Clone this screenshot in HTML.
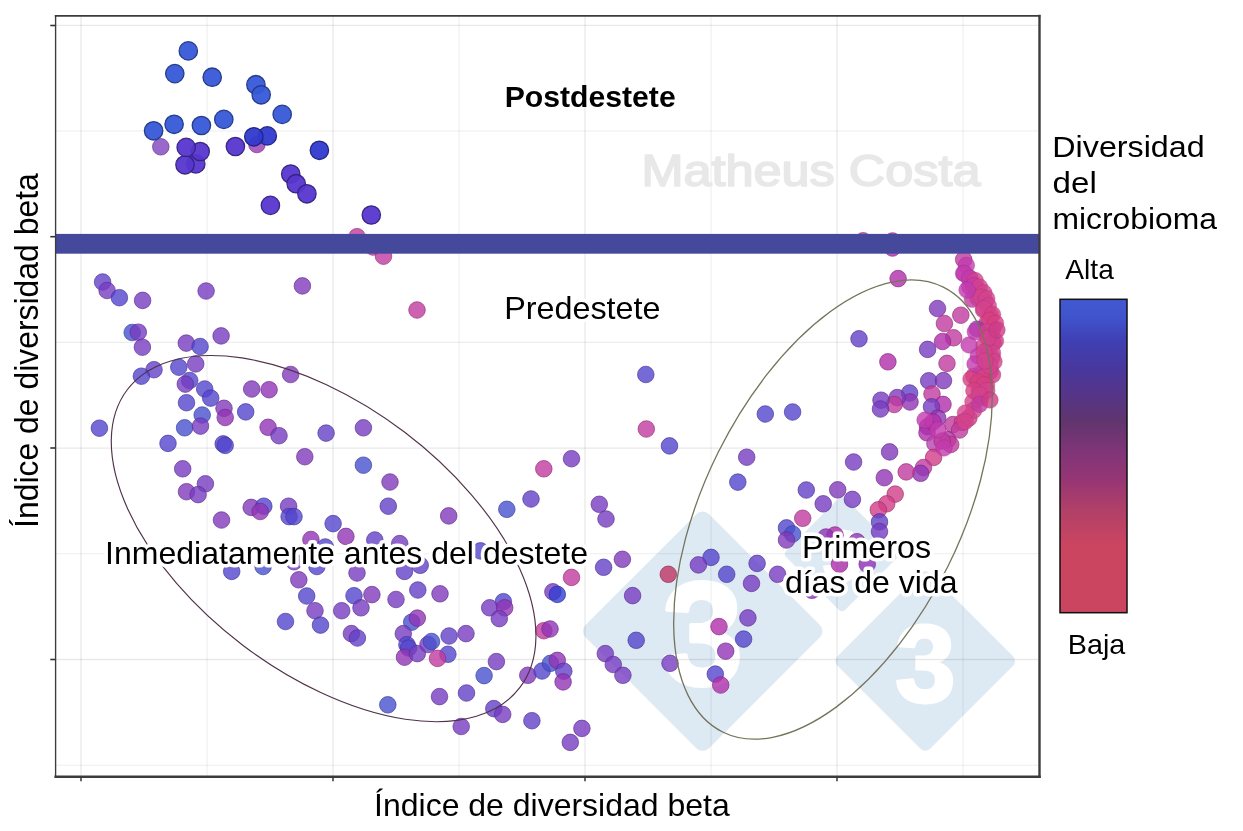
<!DOCTYPE html>
<html lang="es"><head><meta charset="utf-8"><title>Diversidad del microbioma</title>
<style>html,body{margin:0;padding:0;background:#fff}svg{display:block}text{font-family:"Liberation Sans",Arial,sans-serif}</style>
</head><body>
<svg width="1243" height="831" viewBox="0 0 1243 831">
<defs>
<linearGradient id="lg" x1="0" y1="0" x2="0" y2="1">
<stop offset="0" stop-color="#4159d2"/><stop offset="0.06" stop-color="#4053cc"/><stop offset="0.13" stop-color="#3f40b4"/><stop offset="0.22" stop-color="#48389e"/><stop offset="0.30" stop-color="#55358a"/><stop offset="0.39" stop-color="#60356e"/><stop offset="0.48" stop-color="#7e3578"/><stop offset="0.57" stop-color="#953575"/><stop offset="0.67" stop-color="#b04068"/><stop offset="0.79" stop-color="#cc4560"/><stop offset="1" stop-color="#cb4560"/>
</linearGradient>
<clipPath id="pc"><rect x="55.6" y="15.8" width="984" height="760.4"/></clipPath>
</defs>
<rect width="1243" height="831" fill="#fff"/>
<g><g><rect x="800.3" y="512.3" width="83.4" height="83.4" rx="4.3" fill="#dde9f3" transform="rotate(45 842 554)"/><text x="842" y="580" font-size="70" font-weight="bold" fill="#fff" stroke="#fff" stroke-width="1.9" stroke-linejoin="round" text-anchor="middle">3</text></g><g><rect x="615.5" y="544.0" width="174.4" height="174.4" rx="9" fill="#dde9f3" transform="rotate(45 702.7 631.2)"/><text x="702.7" y="684" font-size="146" font-weight="bold" fill="#fff" stroke="#fff" stroke-width="3.9" stroke-linejoin="round" text-anchor="middle">3</text></g><g><rect x="859.9" y="595.6" width="130.8" height="130.8" rx="6.7" fill="#dde9f3" transform="rotate(45 925.3 661)"/><text x="925.3" y="702" font-size="109" font-weight="bold" fill="#fff" stroke="#fff" stroke-width="2.9" stroke-linejoin="round" text-anchor="middle">3</text></g></g>
<g><line x1="81" y1="16" x2="81" y2="776" stroke="#000" stroke-opacity="0.085" stroke-width="1.3"/><line x1="207" y1="16" x2="207" y2="776" stroke="#000" stroke-opacity="0.07" stroke-width="1.1"/><line x1="333" y1="16" x2="333" y2="776" stroke="#000" stroke-opacity="0.085" stroke-width="1.3"/><line x1="459" y1="16" x2="459" y2="776" stroke="#000" stroke-opacity="0.07" stroke-width="1.1"/><line x1="585" y1="16" x2="585" y2="776" stroke="#000" stroke-opacity="0.085" stroke-width="1.3"/><line x1="711" y1="16" x2="711" y2="776" stroke="#000" stroke-opacity="0.07" stroke-width="1.1"/><line x1="837" y1="16" x2="837" y2="776" stroke="#000" stroke-opacity="0.085" stroke-width="1.3"/><line x1="963" y1="16" x2="963" y2="776" stroke="#000" stroke-opacity="0.07" stroke-width="1.1"/><line x1="56" y1="25.3" x2="1040" y2="25.3" stroke="#000" stroke-opacity="0.085" stroke-width="1.3"/><line x1="56" y1="131" x2="1040" y2="131" stroke="#000" stroke-opacity="0.07" stroke-width="1.1"/><line x1="56" y1="236.7" x2="1040" y2="236.7" stroke="#000" stroke-opacity="0.085" stroke-width="1.3"/><line x1="56" y1="342.4" x2="1040" y2="342.4" stroke="#000" stroke-opacity="0.07" stroke-width="1.1"/><line x1="56" y1="448.1" x2="1040" y2="448.1" stroke="#000" stroke-opacity="0.085" stroke-width="1.3"/><line x1="56" y1="553.8" x2="1040" y2="553.8" stroke="#000" stroke-opacity="0.07" stroke-width="1.1"/><line x1="56" y1="659.5" x2="1040" y2="659.5" stroke="#000" stroke-opacity="0.085" stroke-width="1.3"/><line x1="56" y1="765.2" x2="1040" y2="765.2" stroke="#000" stroke-opacity="0.07" stroke-width="1.1"/></g>
<text x="641.5" y="185.7" font-size="43.5" fill="#e8e8e8" stroke="#e8e8e8" stroke-width="1.7" stroke-linejoin="round" textLength="339" lengthAdjust="spacingAndGlyphs">Matheus Costa</text>
<g clip-path="url(#pc)"><circle cx="256.9" cy="144.5" r="8.3" fill="rgb(151, 56, 179)" fill-opacity="0.8" stroke="rgb(113, 42, 134)" stroke-opacity="0.65" stroke-width="1"/><circle cx="160.8" cy="146.8" r="8.3" fill="rgb(129, 66, 189)" fill-opacity="0.8" stroke="rgb(96, 49, 141)" stroke-opacity="0.65" stroke-width="1"/><circle cx="357" cy="236.7" r="8.3" fill="rgb(194, 59, 159)" fill-opacity="0.8" stroke="rgb(145, 44, 119)" stroke-opacity="0.65" stroke-width="1"/><circle cx="373" cy="247" r="8.3" fill="rgb(194, 59, 159)" fill-opacity="0.8" stroke="rgb(145, 44, 119)" stroke-opacity="0.65" stroke-width="1"/><circle cx="383.5" cy="256.2" r="8.3" fill="rgb(194, 59, 159)" fill-opacity="0.8" stroke="rgb(145, 44, 119)" stroke-opacity="0.65" stroke-width="1"/><circle cx="863.1" cy="240.8" r="8.3" fill="rgb(194, 59, 159)" fill-opacity="0.8" stroke="rgb(145, 44, 119)" stroke-opacity="0.65" stroke-width="1"/><circle cx="892.5" cy="241" r="8.3" fill="rgb(176, 46, 171)" fill-opacity="0.8" stroke="rgb(132, 34, 128)" stroke-opacity="0.65" stroke-width="1"/><circle cx="892.5" cy="248" r="8.3" fill="rgb(176, 46, 171)" fill-opacity="0.8" stroke="rgb(132, 34, 128)" stroke-opacity="0.65" stroke-width="1"/><circle cx="963.7" cy="259.6" r="8.3" fill="rgb(194, 59, 159)" fill-opacity="0.8" stroke="rgb(145, 44, 119)" stroke-opacity="0.65" stroke-width="1"/><circle cx="417" cy="310" r="8.3" fill="rgb(194, 59, 159)" fill-opacity="0.8" stroke="rgb(145, 44, 119)" stroke-opacity="0.65" stroke-width="1"/><circle cx="102.6" cy="282" r="8.3" fill="rgb(99, 64, 199)" fill-opacity="0.8" stroke="rgb(74, 48, 149)" stroke-opacity="0.65" stroke-width="1"/><circle cx="107.1" cy="290.5" r="8.3" fill="rgb(119, 60, 192)" fill-opacity="0.8" stroke="rgb(89, 45, 144)" stroke-opacity="0.65" stroke-width="1"/><circle cx="119.4" cy="297.7" r="8.3" fill="rgb(84, 69, 204)" fill-opacity="0.8" stroke="rgb(63, 51, 153)" stroke-opacity="0.65" stroke-width="1"/><circle cx="142.6" cy="300.4" r="8.3" fill="rgb(119, 60, 192)" fill-opacity="0.8" stroke="rgb(89, 45, 144)" stroke-opacity="0.65" stroke-width="1"/><circle cx="206.1" cy="291" r="8.3" fill="rgb(119, 60, 192)" fill-opacity="0.8" stroke="rgb(89, 45, 144)" stroke-opacity="0.65" stroke-width="1"/><circle cx="302.4" cy="285.9" r="8.3" fill="rgb(129, 58, 186)" fill-opacity="0.8" stroke="rgb(96, 43, 139)" stroke-opacity="0.65" stroke-width="1"/><circle cx="132.2" cy="332.5" r="8.3" fill="rgb(71, 81, 205)" fill-opacity="0.8" stroke="rgb(53, 60, 153)" stroke-opacity="0.65" stroke-width="1"/><circle cx="138.3" cy="332.2" r="8.3" fill="rgb(119, 60, 192)" fill-opacity="0.8" stroke="rgb(89, 45, 144)" stroke-opacity="0.65" stroke-width="1"/><circle cx="142.4" cy="347.2" r="8.3" fill="rgb(119, 60, 192)" fill-opacity="0.8" stroke="rgb(89, 45, 144)" stroke-opacity="0.65" stroke-width="1"/><circle cx="221.1" cy="335.9" r="8.3" fill="rgb(119, 60, 192)" fill-opacity="0.8" stroke="rgb(89, 45, 144)" stroke-opacity="0.65" stroke-width="1"/><circle cx="186.3" cy="343.1" r="8.3" fill="rgb(119, 60, 192)" fill-opacity="0.8" stroke="rgb(89, 45, 144)" stroke-opacity="0.65" stroke-width="1"/><circle cx="200.1" cy="346.5" r="8.3" fill="rgb(84, 69, 204)" fill-opacity="0.8" stroke="rgb(63, 51, 153)" stroke-opacity="0.65" stroke-width="1"/><circle cx="195.7" cy="363.9" r="8.3" fill="rgb(119, 60, 192)" fill-opacity="0.8" stroke="rgb(89, 45, 144)" stroke-opacity="0.65" stroke-width="1"/><circle cx="178.8" cy="367.2" r="8.3" fill="rgb(84, 69, 204)" fill-opacity="0.8" stroke="rgb(63, 51, 153)" stroke-opacity="0.65" stroke-width="1"/><circle cx="154" cy="369.7" r="8.3" fill="rgb(99, 64, 199)" fill-opacity="0.8" stroke="rgb(74, 48, 149)" stroke-opacity="0.65" stroke-width="1"/><circle cx="141.4" cy="376.2" r="8.3" fill="rgb(84, 69, 204)" fill-opacity="0.8" stroke="rgb(63, 51, 153)" stroke-opacity="0.65" stroke-width="1"/><circle cx="290.6" cy="374.5" r="8.3" fill="rgb(129, 58, 186)" fill-opacity="0.8" stroke="rgb(96, 43, 139)" stroke-opacity="0.65" stroke-width="1"/><circle cx="189.7" cy="380.5" r="8.3" fill="rgb(84, 69, 204)" fill-opacity="0.8" stroke="rgb(63, 51, 153)" stroke-opacity="0.65" stroke-width="1"/><circle cx="185.3" cy="384.1" r="8.3" fill="rgb(119, 60, 192)" fill-opacity="0.8" stroke="rgb(89, 45, 144)" stroke-opacity="0.65" stroke-width="1"/><circle cx="204.7" cy="389" r="8.3" fill="rgb(84, 69, 204)" fill-opacity="0.8" stroke="rgb(63, 51, 153)" stroke-opacity="0.65" stroke-width="1"/><circle cx="210.7" cy="398.1" r="8.3" fill="rgb(84, 69, 204)" fill-opacity="0.8" stroke="rgb(63, 51, 153)" stroke-opacity="0.65" stroke-width="1"/><circle cx="251.7" cy="389" r="8.3" fill="rgb(129, 58, 186)" fill-opacity="0.8" stroke="rgb(96, 43, 139)" stroke-opacity="0.65" stroke-width="1"/><circle cx="269.1" cy="389.7" r="8.3" fill="rgb(145, 53, 181)" fill-opacity="0.8" stroke="rgb(108, 39, 135)" stroke-opacity="0.65" stroke-width="1"/><circle cx="186.5" cy="402.7" r="8.3" fill="rgb(84, 69, 204)" fill-opacity="0.8" stroke="rgb(63, 51, 153)" stroke-opacity="0.65" stroke-width="1"/><circle cx="224" cy="408.3" r="8.3" fill="rgb(129, 58, 186)" fill-opacity="0.8" stroke="rgb(96, 43, 139)" stroke-opacity="0.65" stroke-width="1"/><circle cx="245.7" cy="411.9" r="8.3" fill="rgb(84, 69, 204)" fill-opacity="0.8" stroke="rgb(63, 51, 153)" stroke-opacity="0.65" stroke-width="1"/><circle cx="202.2" cy="415" r="8.3" fill="rgb(71, 81, 205)" fill-opacity="0.8" stroke="rgb(53, 60, 153)" stroke-opacity="0.65" stroke-width="1"/><circle cx="225.2" cy="417.5" r="8.3" fill="rgb(145, 53, 181)" fill-opacity="0.8" stroke="rgb(108, 39, 135)" stroke-opacity="0.65" stroke-width="1"/><circle cx="99.4" cy="428.2" r="8.3" fill="rgb(84, 69, 204)" fill-opacity="0.8" stroke="rgb(63, 51, 153)" stroke-opacity="0.65" stroke-width="1"/><circle cx="184.6" cy="427.8" r="8.3" fill="rgb(71, 81, 205)" fill-opacity="0.8" stroke="rgb(53, 60, 153)" stroke-opacity="0.65" stroke-width="1"/><circle cx="200.5" cy="426.1" r="8.3" fill="rgb(119, 60, 192)" fill-opacity="0.8" stroke="rgb(89, 45, 144)" stroke-opacity="0.65" stroke-width="1"/><circle cx="268.1" cy="427.3" r="8.3" fill="rgb(145, 53, 181)" fill-opacity="0.8" stroke="rgb(108, 39, 135)" stroke-opacity="0.65" stroke-width="1"/><circle cx="279" cy="435.7" r="8.3" fill="rgb(119, 60, 192)" fill-opacity="0.8" stroke="rgb(89, 45, 144)" stroke-opacity="0.65" stroke-width="1"/><circle cx="326.1" cy="433.1" r="8.3" fill="rgb(99, 64, 199)" fill-opacity="0.8" stroke="rgb(74, 48, 149)" stroke-opacity="0.65" stroke-width="1"/><circle cx="168" cy="443.4" r="8.3" fill="rgb(84, 69, 204)" fill-opacity="0.8" stroke="rgb(63, 51, 153)" stroke-opacity="0.65" stroke-width="1"/><circle cx="223.2" cy="443.9" r="8.3" fill="rgb(84, 69, 204)" fill-opacity="0.8" stroke="rgb(63, 51, 153)" stroke-opacity="0.65" stroke-width="1"/><circle cx="225.2" cy="445.4" r="8.3" fill="rgb(84, 69, 204)" fill-opacity="0.8" stroke="rgb(63, 51, 153)" stroke-opacity="0.65" stroke-width="1"/><circle cx="304.8" cy="456.7" r="8.3" fill="rgb(129, 58, 186)" fill-opacity="0.8" stroke="rgb(96, 43, 139)" stroke-opacity="0.65" stroke-width="1"/><circle cx="182.7" cy="468.8" r="8.3" fill="rgb(119, 60, 192)" fill-opacity="0.8" stroke="rgb(89, 45, 144)" stroke-opacity="0.65" stroke-width="1"/><circle cx="205.4" cy="483.8" r="8.3" fill="rgb(119, 60, 192)" fill-opacity="0.8" stroke="rgb(89, 45, 144)" stroke-opacity="0.65" stroke-width="1"/><circle cx="186.5" cy="491.7" r="8.3" fill="rgb(129, 58, 186)" fill-opacity="0.8" stroke="rgb(96, 43, 139)" stroke-opacity="0.65" stroke-width="1"/><circle cx="198.1" cy="494.6" r="8.3" fill="rgb(119, 60, 192)" fill-opacity="0.8" stroke="rgb(89, 45, 144)" stroke-opacity="0.65" stroke-width="1"/><circle cx="221.5" cy="520" r="8.3" fill="rgb(129, 58, 186)" fill-opacity="0.8" stroke="rgb(96, 43, 139)" stroke-opacity="0.65" stroke-width="1"/><circle cx="251.2" cy="507.4" r="8.3" fill="rgb(129, 58, 186)" fill-opacity="0.8" stroke="rgb(96, 43, 139)" stroke-opacity="0.65" stroke-width="1"/><circle cx="263.8" cy="506.2" r="8.3" fill="rgb(84, 69, 204)" fill-opacity="0.8" stroke="rgb(63, 51, 153)" stroke-opacity="0.65" stroke-width="1"/><circle cx="260.2" cy="511.5" r="8.3" fill="rgb(145, 53, 181)" fill-opacity="0.8" stroke="rgb(108, 39, 135)" stroke-opacity="0.65" stroke-width="1"/><circle cx="288.6" cy="506.2" r="8.3" fill="rgb(119, 60, 192)" fill-opacity="0.8" stroke="rgb(89, 45, 144)" stroke-opacity="0.65" stroke-width="1"/><circle cx="289.1" cy="516.6" r="8.3" fill="rgb(84, 69, 204)" fill-opacity="0.8" stroke="rgb(63, 51, 153)" stroke-opacity="0.65" stroke-width="1"/><circle cx="294" cy="516.6" r="8.3" fill="rgb(84, 69, 204)" fill-opacity="0.8" stroke="rgb(63, 51, 153)" stroke-opacity="0.65" stroke-width="1"/><circle cx="333.1" cy="523.6" r="8.3" fill="rgb(84, 69, 204)" fill-opacity="0.8" stroke="rgb(63, 51, 153)" stroke-opacity="0.65" stroke-width="1"/><circle cx="345.9" cy="536.4" r="8.3" fill="rgb(145, 53, 181)" fill-opacity="0.8" stroke="rgb(108, 39, 135)" stroke-opacity="0.65" stroke-width="1"/><circle cx="310.9" cy="539.5" r="8.3" fill="rgb(145, 53, 181)" fill-opacity="0.8" stroke="rgb(108, 39, 135)" stroke-opacity="0.65" stroke-width="1"/><circle cx="325.3" cy="547" r="8.3" fill="rgb(84, 69, 204)" fill-opacity="0.8" stroke="rgb(63, 51, 153)" stroke-opacity="0.65" stroke-width="1"/><circle cx="231.7" cy="571.4" r="8.3" fill="rgb(84, 69, 204)" fill-opacity="0.8" stroke="rgb(63, 51, 153)" stroke-opacity="0.65" stroke-width="1"/><circle cx="263.1" cy="566.5" r="8.3" fill="rgb(71, 81, 205)" fill-opacity="0.8" stroke="rgb(53, 60, 153)" stroke-opacity="0.65" stroke-width="1"/><circle cx="316.9" cy="566.5" r="8.3" fill="rgb(84, 69, 204)" fill-opacity="0.8" stroke="rgb(63, 51, 153)" stroke-opacity="0.65" stroke-width="1"/><circle cx="294" cy="561.7" r="8.3" fill="rgb(119, 60, 192)" fill-opacity="0.8" stroke="rgb(89, 45, 144)" stroke-opacity="0.65" stroke-width="1"/><circle cx="298.8" cy="579.8" r="8.3" fill="rgb(129, 58, 186)" fill-opacity="0.8" stroke="rgb(96, 43, 139)" stroke-opacity="0.65" stroke-width="1"/><circle cx="306.7" cy="596" r="8.3" fill="rgb(84, 69, 204)" fill-opacity="0.8" stroke="rgb(63, 51, 153)" stroke-opacity="0.65" stroke-width="1"/><circle cx="315" cy="610.7" r="8.3" fill="rgb(119, 60, 192)" fill-opacity="0.8" stroke="rgb(89, 45, 144)" stroke-opacity="0.65" stroke-width="1"/><circle cx="285.5" cy="621.5" r="8.3" fill="rgb(84, 69, 204)" fill-opacity="0.8" stroke="rgb(63, 51, 153)" stroke-opacity="0.65" stroke-width="1"/><circle cx="320.5" cy="625.1" r="8.3" fill="rgb(84, 69, 204)" fill-opacity="0.8" stroke="rgb(63, 51, 153)" stroke-opacity="0.65" stroke-width="1"/><circle cx="341.7" cy="610.7" r="8.3" fill="rgb(119, 60, 192)" fill-opacity="0.8" stroke="rgb(89, 45, 144)" stroke-opacity="0.65" stroke-width="1"/><circle cx="351.4" cy="633.6" r="8.3" fill="rgb(119, 60, 192)" fill-opacity="0.8" stroke="rgb(89, 45, 144)" stroke-opacity="0.65" stroke-width="1"/><circle cx="357.4" cy="638" r="8.3" fill="rgb(99, 64, 199)" fill-opacity="0.8" stroke="rgb(74, 48, 149)" stroke-opacity="0.65" stroke-width="1"/><circle cx="363.4" cy="427.8" r="8.3" fill="rgb(119, 60, 192)" fill-opacity="0.8" stroke="rgb(89, 45, 144)" stroke-opacity="0.65" stroke-width="1"/><circle cx="363.4" cy="465.2" r="8.3" fill="rgb(71, 81, 205)" fill-opacity="0.8" stroke="rgb(53, 60, 153)" stroke-opacity="0.65" stroke-width="1"/><circle cx="390" cy="482" r="8.3" fill="rgb(129, 58, 186)" fill-opacity="0.8" stroke="rgb(96, 43, 139)" stroke-opacity="0.65" stroke-width="1"/><circle cx="388.3" cy="506.2" r="8.3" fill="rgb(99, 64, 199)" fill-opacity="0.8" stroke="rgb(74, 48, 149)" stroke-opacity="0.65" stroke-width="1"/><circle cx="448.7" cy="515.9" r="8.3" fill="rgb(129, 58, 186)" fill-opacity="0.8" stroke="rgb(96, 43, 139)" stroke-opacity="0.65" stroke-width="1"/><circle cx="646.3" cy="429" r="8.3" fill="rgb(194, 59, 159)" fill-opacity="0.8" stroke="rgb(145, 44, 119)" stroke-opacity="0.65" stroke-width="1"/><circle cx="571.5" cy="458.7" r="8.3" fill="rgb(119, 60, 192)" fill-opacity="0.8" stroke="rgb(89, 45, 144)" stroke-opacity="0.65" stroke-width="1"/><circle cx="543.8" cy="468.8" r="8.3" fill="rgb(194, 59, 159)" fill-opacity="0.8" stroke="rgb(145, 44, 119)" stroke-opacity="0.65" stroke-width="1"/><circle cx="531" cy="499" r="8.3" fill="rgb(99, 64, 199)" fill-opacity="0.8" stroke="rgb(74, 48, 149)" stroke-opacity="0.65" stroke-width="1"/><circle cx="506.8" cy="509.3" r="8.3" fill="rgb(71, 81, 205)" fill-opacity="0.8" stroke="rgb(53, 60, 153)" stroke-opacity="0.65" stroke-width="1"/><circle cx="599.3" cy="504.3" r="8.3" fill="rgb(119, 60, 192)" fill-opacity="0.8" stroke="rgb(89, 45, 144)" stroke-opacity="0.65" stroke-width="1"/><circle cx="606" cy="519" r="8.3" fill="rgb(119, 60, 192)" fill-opacity="0.8" stroke="rgb(89, 45, 144)" stroke-opacity="0.65" stroke-width="1"/><circle cx="374.8" cy="540" r="8.3" fill="rgb(99, 64, 199)" fill-opacity="0.8" stroke="rgb(74, 48, 149)" stroke-opacity="0.65" stroke-width="1"/><circle cx="399.7" cy="543.6" r="8.3" fill="rgb(119, 60, 192)" fill-opacity="0.8" stroke="rgb(89, 45, 144)" stroke-opacity="0.65" stroke-width="1"/><circle cx="480.5" cy="550.9" r="8.3" fill="rgb(84, 69, 204)" fill-opacity="0.8" stroke="rgb(63, 51, 153)" stroke-opacity="0.65" stroke-width="1"/><circle cx="357" cy="573" r="8.3" fill="rgb(119, 60, 192)" fill-opacity="0.8" stroke="rgb(89, 45, 144)" stroke-opacity="0.65" stroke-width="1"/><circle cx="404.5" cy="571.4" r="8.3" fill="rgb(99, 64, 199)" fill-opacity="0.8" stroke="rgb(74, 48, 149)" stroke-opacity="0.65" stroke-width="1"/><circle cx="420.2" cy="565.3" r="8.3" fill="rgb(99, 64, 199)" fill-opacity="0.8" stroke="rgb(74, 48, 149)" stroke-opacity="0.65" stroke-width="1"/><circle cx="417.8" cy="590" r="8.3" fill="rgb(99, 64, 199)" fill-opacity="0.8" stroke="rgb(74, 48, 149)" stroke-opacity="0.65" stroke-width="1"/><circle cx="371.9" cy="594.6" r="8.3" fill="rgb(129, 58, 186)" fill-opacity="0.8" stroke="rgb(96, 43, 139)" stroke-opacity="0.65" stroke-width="1"/><circle cx="396" cy="599.5" r="8.3" fill="rgb(119, 60, 192)" fill-opacity="0.8" stroke="rgb(89, 45, 144)" stroke-opacity="0.65" stroke-width="1"/><circle cx="440" cy="593.8" r="8.3" fill="rgb(129, 58, 186)" fill-opacity="0.8" stroke="rgb(96, 43, 139)" stroke-opacity="0.65" stroke-width="1"/><circle cx="354" cy="595.7" r="8.3" fill="rgb(84, 69, 204)" fill-opacity="0.8" stroke="rgb(63, 51, 153)" stroke-opacity="0.65" stroke-width="1"/><circle cx="571.5" cy="577.4" r="8.3" fill="rgb(194, 59, 159)" fill-opacity="0.8" stroke="rgb(145, 44, 119)" stroke-opacity="0.65" stroke-width="1"/><circle cx="603.6" cy="567.3" r="8.3" fill="rgb(99, 64, 199)" fill-opacity="0.8" stroke="rgb(74, 48, 149)" stroke-opacity="0.65" stroke-width="1"/><circle cx="622.4" cy="559.3" r="8.3" fill="rgb(129, 58, 186)" fill-opacity="0.8" stroke="rgb(96, 43, 139)" stroke-opacity="0.65" stroke-width="1"/><circle cx="552.9" cy="591.8" r="8.3" fill="rgb(119, 60, 192)" fill-opacity="0.8" stroke="rgb(89, 45, 144)" stroke-opacity="0.65" stroke-width="1"/><circle cx="557.3" cy="594.4" r="8.3" fill="rgb(51, 61, 209)" fill-opacity="0.8" stroke="rgb(38, 45, 156)" stroke-opacity="0.65" stroke-width="1"/><circle cx="503.4" cy="601.7" r="8.3" fill="rgb(84, 69, 204)" fill-opacity="0.8" stroke="rgb(63, 51, 153)" stroke-opacity="0.65" stroke-width="1"/><circle cx="632.6" cy="595.6" r="8.3" fill="rgb(119, 60, 192)" fill-opacity="0.8" stroke="rgb(89, 45, 144)" stroke-opacity="0.65" stroke-width="1"/><circle cx="361" cy="607.8" r="8.3" fill="rgb(119, 60, 192)" fill-opacity="0.8" stroke="rgb(89, 45, 144)" stroke-opacity="0.65" stroke-width="1"/><circle cx="411.7" cy="622.2" r="8.3" fill="rgb(71, 81, 205)" fill-opacity="0.8" stroke="rgb(53, 60, 153)" stroke-opacity="0.65" stroke-width="1"/><circle cx="417.3" cy="618.1" r="8.3" fill="rgb(145, 53, 181)" fill-opacity="0.8" stroke="rgb(108, 39, 135)" stroke-opacity="0.65" stroke-width="1"/><circle cx="403.3" cy="633.6" r="8.3" fill="rgb(119, 60, 192)" fill-opacity="0.8" stroke="rgb(89, 45, 144)" stroke-opacity="0.65" stroke-width="1"/><circle cx="406.9" cy="644.7" r="8.3" fill="rgb(84, 69, 204)" fill-opacity="0.8" stroke="rgb(63, 51, 153)" stroke-opacity="0.65" stroke-width="1"/><circle cx="408.6" cy="648" r="8.3" fill="rgb(84, 69, 204)" fill-opacity="0.8" stroke="rgb(63, 51, 153)" stroke-opacity="0.65" stroke-width="1"/><circle cx="404.5" cy="657.2" r="8.3" fill="rgb(145, 53, 181)" fill-opacity="0.8" stroke="rgb(108, 39, 135)" stroke-opacity="0.65" stroke-width="1"/><circle cx="417.3" cy="653.6" r="8.3" fill="rgb(119, 60, 192)" fill-opacity="0.8" stroke="rgb(89, 45, 144)" stroke-opacity="0.65" stroke-width="1"/><circle cx="428" cy="644.5" r="8.3" fill="rgb(119, 60, 192)" fill-opacity="0.8" stroke="rgb(89, 45, 144)" stroke-opacity="0.65" stroke-width="1"/><circle cx="431.5" cy="641.5" r="8.3" fill="rgb(71, 81, 205)" fill-opacity="0.8" stroke="rgb(53, 60, 153)" stroke-opacity="0.65" stroke-width="1"/><circle cx="449.1" cy="636" r="8.3" fill="rgb(99, 64, 199)" fill-opacity="0.8" stroke="rgb(74, 48, 149)" stroke-opacity="0.65" stroke-width="1"/><circle cx="466" cy="633.6" r="8.3" fill="rgb(119, 60, 192)" fill-opacity="0.8" stroke="rgb(89, 45, 144)" stroke-opacity="0.65" stroke-width="1"/><circle cx="447.9" cy="654.3" r="8.3" fill="rgb(84, 69, 204)" fill-opacity="0.8" stroke="rgb(63, 51, 153)" stroke-opacity="0.65" stroke-width="1"/><circle cx="437.5" cy="658.4" r="8.3" fill="rgb(194, 59, 159)" fill-opacity="0.8" stroke="rgb(145, 44, 119)" stroke-opacity="0.65" stroke-width="1"/><circle cx="489.7" cy="607.8" r="8.3" fill="rgb(119, 60, 192)" fill-opacity="0.8" stroke="rgb(89, 45, 144)" stroke-opacity="0.65" stroke-width="1"/><circle cx="504.7" cy="607.8" r="8.3" fill="rgb(145, 53, 181)" fill-opacity="0.8" stroke="rgb(108, 39, 135)" stroke-opacity="0.65" stroke-width="1"/><circle cx="499.3" cy="618.6" r="8.3" fill="rgb(119, 60, 192)" fill-opacity="0.8" stroke="rgb(89, 45, 144)" stroke-opacity="0.65" stroke-width="1"/><circle cx="496.4" cy="661.6" r="8.3" fill="rgb(119, 60, 192)" fill-opacity="0.8" stroke="rgb(89, 45, 144)" stroke-opacity="0.65" stroke-width="1"/><circle cx="484.1" cy="675.6" r="8.3" fill="rgb(71, 81, 205)" fill-opacity="0.8" stroke="rgb(53, 60, 153)" stroke-opacity="0.65" stroke-width="1"/><circle cx="439.5" cy="696.6" r="8.3" fill="rgb(119, 60, 192)" fill-opacity="0.8" stroke="rgb(89, 45, 144)" stroke-opacity="0.65" stroke-width="1"/><circle cx="466.5" cy="693" r="8.3" fill="rgb(99, 64, 199)" fill-opacity="0.8" stroke="rgb(74, 48, 149)" stroke-opacity="0.65" stroke-width="1"/><circle cx="387.8" cy="704.8" r="8.3" fill="rgb(71, 81, 205)" fill-opacity="0.8" stroke="rgb(53, 60, 153)" stroke-opacity="0.65" stroke-width="1"/><circle cx="461.2" cy="726.5" r="8.3" fill="rgb(119, 60, 192)" fill-opacity="0.8" stroke="rgb(89, 45, 144)" stroke-opacity="0.65" stroke-width="1"/><circle cx="493.8" cy="708.6" r="8.3" fill="rgb(99, 64, 199)" fill-opacity="0.8" stroke="rgb(74, 48, 149)" stroke-opacity="0.65" stroke-width="1"/><circle cx="502.7" cy="714.4" r="8.3" fill="rgb(119, 60, 192)" fill-opacity="0.8" stroke="rgb(89, 45, 144)" stroke-opacity="0.65" stroke-width="1"/><circle cx="531.9" cy="720.7" r="8.3" fill="rgb(99, 64, 199)" fill-opacity="0.8" stroke="rgb(74, 48, 149)" stroke-opacity="0.65" stroke-width="1"/><circle cx="527.8" cy="675.3" r="8.3" fill="rgb(129, 58, 186)" fill-opacity="0.8" stroke="rgb(96, 43, 139)" stroke-opacity="0.65" stroke-width="1"/><circle cx="542.1" cy="671" r="8.3" fill="rgb(84, 69, 204)" fill-opacity="0.8" stroke="rgb(63, 51, 153)" stroke-opacity="0.65" stroke-width="1"/><circle cx="550.5" cy="663.3" r="8.3" fill="rgb(71, 81, 205)" fill-opacity="0.8" stroke="rgb(53, 60, 153)" stroke-opacity="0.65" stroke-width="1"/><circle cx="557.3" cy="660.4" r="8.3" fill="rgb(145, 53, 181)" fill-opacity="0.8" stroke="rgb(108, 39, 135)" stroke-opacity="0.65" stroke-width="1"/><circle cx="563.8" cy="671.2" r="8.3" fill="rgb(99, 64, 199)" fill-opacity="0.8" stroke="rgb(74, 48, 149)" stroke-opacity="0.65" stroke-width="1"/><circle cx="563.1" cy="681.9" r="8.3" fill="rgb(145, 53, 181)" fill-opacity="0.8" stroke="rgb(108, 39, 135)" stroke-opacity="0.65" stroke-width="1"/><circle cx="543.8" cy="630.7" r="8.3" fill="rgb(194, 59, 159)" fill-opacity="0.8" stroke="rgb(145, 44, 119)" stroke-opacity="0.65" stroke-width="1"/><circle cx="550" cy="629" r="8.3" fill="rgb(145, 53, 181)" fill-opacity="0.8" stroke="rgb(108, 39, 135)" stroke-opacity="0.65" stroke-width="1"/><circle cx="636.2" cy="640.3" r="8.3" fill="rgb(84, 69, 204)" fill-opacity="0.8" stroke="rgb(63, 51, 153)" stroke-opacity="0.65" stroke-width="1"/><circle cx="605.3" cy="653.6" r="8.3" fill="rgb(119, 60, 192)" fill-opacity="0.8" stroke="rgb(89, 45, 144)" stroke-opacity="0.65" stroke-width="1"/><circle cx="613.3" cy="664.5" r="8.3" fill="rgb(119, 60, 192)" fill-opacity="0.8" stroke="rgb(89, 45, 144)" stroke-opacity="0.65" stroke-width="1"/><circle cx="622.9" cy="675.3" r="8.3" fill="rgb(119, 60, 192)" fill-opacity="0.8" stroke="rgb(89, 45, 144)" stroke-opacity="0.65" stroke-width="1"/><circle cx="581.9" cy="728.4" r="8.3" fill="rgb(119, 60, 192)" fill-opacity="0.8" stroke="rgb(89, 45, 144)" stroke-opacity="0.65" stroke-width="1"/><circle cx="570.3" cy="742.4" r="8.3" fill="rgb(119, 60, 192)" fill-opacity="0.8" stroke="rgb(89, 45, 144)" stroke-opacity="0.65" stroke-width="1"/><circle cx="645.8" cy="374.5" r="8.3" fill="rgb(84, 69, 204)" fill-opacity="0.8" stroke="rgb(63, 51, 153)" stroke-opacity="0.65" stroke-width="1"/><circle cx="669.5" cy="445.9" r="8.3" fill="rgb(84, 69, 204)" fill-opacity="0.8" stroke="rgb(63, 51, 153)" stroke-opacity="0.65" stroke-width="1"/><circle cx="746.7" cy="457.2" r="8.3" fill="rgb(119, 60, 192)" fill-opacity="0.8" stroke="rgb(89, 45, 144)" stroke-opacity="0.65" stroke-width="1"/><circle cx="737.8" cy="482.1" r="8.3" fill="rgb(84, 69, 204)" fill-opacity="0.8" stroke="rgb(63, 51, 153)" stroke-opacity="0.65" stroke-width="1"/><circle cx="853.6" cy="462" r="8.3" fill="rgb(119, 60, 192)" fill-opacity="0.8" stroke="rgb(89, 45, 144)" stroke-opacity="0.65" stroke-width="1"/><circle cx="889.6" cy="451.9" r="8.3" fill="rgb(129, 58, 186)" fill-opacity="0.8" stroke="rgb(96, 43, 139)" stroke-opacity="0.65" stroke-width="1"/><circle cx="884.3" cy="477.7" r="8.3" fill="rgb(145, 53, 181)" fill-opacity="0.8" stroke="rgb(108, 39, 135)" stroke-opacity="0.65" stroke-width="1"/><circle cx="806.3" cy="490" r="8.3" fill="rgb(99, 64, 199)" fill-opacity="0.8" stroke="rgb(74, 48, 149)" stroke-opacity="0.65" stroke-width="1"/><circle cx="837.7" cy="489.8" r="8.3" fill="rgb(129, 58, 186)" fill-opacity="0.8" stroke="rgb(96, 43, 139)" stroke-opacity="0.65" stroke-width="1"/><circle cx="823.2" cy="503.8" r="8.3" fill="rgb(119, 60, 192)" fill-opacity="0.8" stroke="rgb(89, 45, 144)" stroke-opacity="0.65" stroke-width="1"/><circle cx="852.4" cy="499.4" r="8.3" fill="rgb(119, 60, 192)" fill-opacity="0.8" stroke="rgb(89, 45, 144)" stroke-opacity="0.65" stroke-width="1"/><circle cx="802.7" cy="518.3" r="8.3" fill="rgb(194, 59, 159)" fill-opacity="0.8" stroke="rgb(145, 44, 119)" stroke-opacity="0.65" stroke-width="1"/><circle cx="786.5" cy="527.9" r="8.3" fill="rgb(84, 69, 204)" fill-opacity="0.8" stroke="rgb(63, 51, 153)" stroke-opacity="0.65" stroke-width="1"/><circle cx="792.6" cy="534" r="8.3" fill="rgb(71, 81, 205)" fill-opacity="0.8" stroke="rgb(53, 60, 153)" stroke-opacity="0.65" stroke-width="1"/><circle cx="786.5" cy="540" r="8.3" fill="rgb(129, 58, 186)" fill-opacity="0.8" stroke="rgb(96, 43, 139)" stroke-opacity="0.65" stroke-width="1"/><circle cx="895.2" cy="494.1" r="8.3" fill="rgb(209, 61, 136)" fill-opacity="0.8" stroke="rgb(156, 45, 102)" stroke-opacity="0.65" stroke-width="1"/><circle cx="886.7" cy="503.8" r="8.3" fill="rgb(209, 61, 136)" fill-opacity="0.8" stroke="rgb(156, 45, 102)" stroke-opacity="0.65" stroke-width="1"/><circle cx="878.3" cy="509.8" r="8.3" fill="rgb(209, 61, 136)" fill-opacity="0.8" stroke="rgb(156, 45, 102)" stroke-opacity="0.65" stroke-width="1"/><circle cx="879.5" cy="521.9" r="8.3" fill="rgb(99, 64, 199)" fill-opacity="0.8" stroke="rgb(74, 48, 149)" stroke-opacity="0.65" stroke-width="1"/><circle cx="879.5" cy="531.5" r="8.3" fill="rgb(119, 60, 192)" fill-opacity="0.8" stroke="rgb(89, 45, 144)" stroke-opacity="0.65" stroke-width="1"/><circle cx="765.3" cy="414" r="8.3" fill="rgb(84, 69, 204)" fill-opacity="0.8" stroke="rgb(63, 51, 153)" stroke-opacity="0.65" stroke-width="1"/><circle cx="792.6" cy="412" r="8.3" fill="rgb(84, 69, 204)" fill-opacity="0.8" stroke="rgb(63, 51, 153)" stroke-opacity="0.65" stroke-width="1"/><circle cx="835" cy="535" r="8.3" fill="rgb(176, 46, 171)" fill-opacity="0.8" stroke="rgb(132, 34, 128)" stroke-opacity="0.65" stroke-width="1"/><circle cx="856.9" cy="541.7" r="8.3" fill="rgb(145, 53, 181)" fill-opacity="0.8" stroke="rgb(108, 39, 135)" stroke-opacity="0.65" stroke-width="1"/><circle cx="826" cy="537" r="8.3" fill="rgb(145, 53, 181)" fill-opacity="0.8" stroke="rgb(108, 39, 135)" stroke-opacity="0.65" stroke-width="1"/><circle cx="839.5" cy="564.2" r="8.3" fill="rgb(176, 46, 171)" fill-opacity="0.8" stroke="rgb(132, 34, 128)" stroke-opacity="0.65" stroke-width="1"/><circle cx="867.2" cy="564.2" r="8.3" fill="rgb(145, 53, 181)" fill-opacity="0.8" stroke="rgb(108, 39, 135)" stroke-opacity="0.65" stroke-width="1"/><circle cx="711" cy="557.4" r="8.3" fill="rgb(84, 69, 204)" fill-opacity="0.8" stroke="rgb(63, 51, 153)" stroke-opacity="0.65" stroke-width="1"/><circle cx="698.4" cy="564.9" r="8.3" fill="rgb(119, 60, 192)" fill-opacity="0.8" stroke="rgb(89, 45, 144)" stroke-opacity="0.65" stroke-width="1"/><circle cx="668.3" cy="574.3" r="8.3" fill="rgb(191, 51, 99)" fill-opacity="0.8" stroke="rgb(143, 38, 74)" stroke-opacity="0.65" stroke-width="1"/><circle cx="726.7" cy="574.3" r="8.3" fill="rgb(84, 69, 204)" fill-opacity="0.8" stroke="rgb(63, 51, 153)" stroke-opacity="0.65" stroke-width="1"/><circle cx="757.1" cy="563.4" r="8.3" fill="rgb(99, 64, 199)" fill-opacity="0.8" stroke="rgb(74, 48, 149)" stroke-opacity="0.65" stroke-width="1"/><circle cx="751.5" cy="583.4" r="8.3" fill="rgb(119, 60, 192)" fill-opacity="0.8" stroke="rgb(89, 45, 144)" stroke-opacity="0.65" stroke-width="1"/><circle cx="777.6" cy="574.3" r="8.3" fill="rgb(119, 60, 192)" fill-opacity="0.8" stroke="rgb(89, 45, 144)" stroke-opacity="0.65" stroke-width="1"/><circle cx="811.9" cy="590.3" r="8.3" fill="rgb(145, 53, 181)" fill-opacity="0.8" stroke="rgb(108, 39, 135)" stroke-opacity="0.65" stroke-width="1"/><circle cx="747.9" cy="617.9" r="8.3" fill="rgb(119, 60, 192)" fill-opacity="0.8" stroke="rgb(89, 45, 144)" stroke-opacity="0.65" stroke-width="1"/><circle cx="719" cy="626.6" r="8.3" fill="rgb(176, 46, 171)" fill-opacity="0.8" stroke="rgb(132, 34, 128)" stroke-opacity="0.65" stroke-width="1"/><circle cx="743.6" cy="639.1" r="8.3" fill="rgb(84, 69, 204)" fill-opacity="0.8" stroke="rgb(63, 51, 153)" stroke-opacity="0.65" stroke-width="1"/><circle cx="725.7" cy="651.2" r="8.3" fill="rgb(145, 53, 181)" fill-opacity="0.8" stroke="rgb(108, 39, 135)" stroke-opacity="0.65" stroke-width="1"/><circle cx="670" cy="663.3" r="8.3" fill="rgb(119, 60, 192)" fill-opacity="0.8" stroke="rgb(89, 45, 144)" stroke-opacity="0.65" stroke-width="1"/><circle cx="715.3" cy="674.1" r="8.3" fill="rgb(84, 69, 204)" fill-opacity="0.8" stroke="rgb(63, 51, 153)" stroke-opacity="0.65" stroke-width="1"/><circle cx="720.7" cy="685" r="8.3" fill="rgb(176, 46, 171)" fill-opacity="0.8" stroke="rgb(132, 34, 128)" stroke-opacity="0.65" stroke-width="1"/><circle cx="898.1" cy="278.6" r="8.3" fill="rgb(176, 46, 171)" fill-opacity="0.8" stroke="rgb(132, 34, 128)" stroke-opacity="0.65" stroke-width="1"/><circle cx="937.5" cy="308.5" r="8.3" fill="rgb(129, 58, 186)" fill-opacity="0.8" stroke="rgb(96, 43, 139)" stroke-opacity="0.65" stroke-width="1"/><circle cx="944.4" cy="323.5" r="8.3" fill="rgb(194, 59, 159)" fill-opacity="0.8" stroke="rgb(145, 44, 119)" stroke-opacity="0.65" stroke-width="1"/><circle cx="960.8" cy="315.2" r="8.3" fill="rgb(194, 59, 159)" fill-opacity="0.8" stroke="rgb(145, 44, 119)" stroke-opacity="0.65" stroke-width="1"/><circle cx="953.6" cy="337.8" r="8.3" fill="rgb(194, 59, 159)" fill-opacity="0.8" stroke="rgb(145, 44, 119)" stroke-opacity="0.65" stroke-width="1"/><circle cx="942.5" cy="341.5" r="8.3" fill="rgb(176, 46, 171)" fill-opacity="0.8" stroke="rgb(132, 34, 128)" stroke-opacity="0.65" stroke-width="1"/><circle cx="927.6" cy="349.4" r="8.3" fill="rgb(119, 60, 192)" fill-opacity="0.8" stroke="rgb(89, 45, 144)" stroke-opacity="0.65" stroke-width="1"/><circle cx="947" cy="363.4" r="8.3" fill="rgb(194, 59, 159)" fill-opacity="0.8" stroke="rgb(145, 44, 119)" stroke-opacity="0.65" stroke-width="1"/><circle cx="859" cy="338.8" r="8.3" fill="rgb(99, 64, 199)" fill-opacity="0.8" stroke="rgb(74, 48, 149)" stroke-opacity="0.65" stroke-width="1"/><circle cx="887.9" cy="361.8" r="8.3" fill="rgb(176, 46, 171)" fill-opacity="0.8" stroke="rgb(132, 34, 128)" stroke-opacity="0.65" stroke-width="1"/><circle cx="928.7" cy="380.8" r="8.3" fill="rgb(119, 60, 192)" fill-opacity="0.8" stroke="rgb(89, 45, 144)" stroke-opacity="0.65" stroke-width="1"/><circle cx="943.5" cy="380.6" r="8.3" fill="rgb(129, 58, 186)" fill-opacity="0.8" stroke="rgb(96, 43, 139)" stroke-opacity="0.65" stroke-width="1"/><circle cx="932" cy="394" r="8.3" fill="rgb(194, 59, 159)" fill-opacity="0.8" stroke="rgb(145, 44, 119)" stroke-opacity="0.65" stroke-width="1"/><circle cx="909.6" cy="393" r="8.3" fill="rgb(99, 64, 199)" fill-opacity="0.8" stroke="rgb(74, 48, 149)" stroke-opacity="0.65" stroke-width="1"/><circle cx="910" cy="402" r="8.3" fill="rgb(145, 53, 181)" fill-opacity="0.8" stroke="rgb(108, 39, 135)" stroke-opacity="0.65" stroke-width="1"/><circle cx="897.2" cy="397.6" r="8.3" fill="rgb(129, 58, 186)" fill-opacity="0.8" stroke="rgb(96, 43, 139)" stroke-opacity="0.65" stroke-width="1"/><circle cx="894.2" cy="404.5" r="8.3" fill="rgb(194, 59, 159)" fill-opacity="0.8" stroke="rgb(145, 44, 119)" stroke-opacity="0.65" stroke-width="1"/><circle cx="881" cy="400.2" r="8.3" fill="rgb(119, 60, 192)" fill-opacity="0.8" stroke="rgb(89, 45, 144)" stroke-opacity="0.65" stroke-width="1"/><circle cx="880.5" cy="409" r="8.3" fill="rgb(119, 60, 192)" fill-opacity="0.8" stroke="rgb(89, 45, 144)" stroke-opacity="0.65" stroke-width="1"/><circle cx="943" cy="404.4" r="8.3" fill="rgb(176, 46, 171)" fill-opacity="0.8" stroke="rgb(132, 34, 128)" stroke-opacity="0.65" stroke-width="1"/><circle cx="931.5" cy="406.8" r="8.3" fill="rgb(119, 60, 192)" fill-opacity="0.8" stroke="rgb(89, 45, 144)" stroke-opacity="0.65" stroke-width="1"/><circle cx="937.7" cy="418.1" r="8.3" fill="rgb(145, 53, 181)" fill-opacity="0.8" stroke="rgb(108, 39, 135)" stroke-opacity="0.65" stroke-width="1"/><circle cx="927.6" cy="426.7" r="8.3" fill="rgb(145, 53, 181)" fill-opacity="0.8" stroke="rgb(108, 39, 135)" stroke-opacity="0.65" stroke-width="1"/><circle cx="927" cy="432.8" r="8.3" fill="rgb(176, 46, 171)" fill-opacity="0.8" stroke="rgb(132, 34, 128)" stroke-opacity="0.65" stroke-width="1"/><circle cx="933" cy="422" r="8.3" fill="rgb(176, 46, 171)" fill-opacity="0.8" stroke="rgb(132, 34, 128)" stroke-opacity="0.65" stroke-width="1"/><circle cx="952.9" cy="424.6" r="8.3" fill="rgb(194, 59, 159)" fill-opacity="0.8" stroke="rgb(145, 44, 119)" stroke-opacity="0.65" stroke-width="1"/><circle cx="962.3" cy="422.4" r="8.3" fill="rgb(209, 61, 136)" fill-opacity="0.8" stroke="rgb(156, 45, 102)" stroke-opacity="0.65" stroke-width="1"/><circle cx="968.8" cy="418.1" r="8.3" fill="rgb(209, 61, 136)" fill-opacity="0.8" stroke="rgb(156, 45, 102)" stroke-opacity="0.65" stroke-width="1"/><circle cx="947.9" cy="439.7" r="8.3" fill="rgb(176, 46, 171)" fill-opacity="0.8" stroke="rgb(132, 34, 128)" stroke-opacity="0.65" stroke-width="1"/><circle cx="950.7" cy="444.5" r="8.3" fill="rgb(194, 59, 159)" fill-opacity="0.8" stroke="rgb(145, 44, 119)" stroke-opacity="0.65" stroke-width="1"/><circle cx="934.9" cy="443.5" r="8.3" fill="rgb(186, 66, 176)" fill-opacity="0.8" stroke="rgb(139, 49, 132)" stroke-opacity="0.65" stroke-width="1"/><circle cx="942.2" cy="441" r="8.3" fill="rgb(194, 59, 159)" fill-opacity="0.8" stroke="rgb(145, 44, 119)" stroke-opacity="0.65" stroke-width="1"/><circle cx="959.6" cy="430" r="8.3" fill="rgb(194, 59, 159)" fill-opacity="0.8" stroke="rgb(145, 44, 119)" stroke-opacity="0.65" stroke-width="1"/><circle cx="933.6" cy="457.4" r="8.3" fill="rgb(209, 61, 136)" fill-opacity="0.8" stroke="rgb(156, 45, 102)" stroke-opacity="0.65" stroke-width="1"/><circle cx="923.5" cy="467.5" r="8.3" fill="rgb(194, 59, 159)" fill-opacity="0.8" stroke="rgb(145, 44, 119)" stroke-opacity="0.65" stroke-width="1"/><circle cx="920.6" cy="473.3" r="8.3" fill="rgb(145, 53, 181)" fill-opacity="0.8" stroke="rgb(108, 39, 135)" stroke-opacity="0.65" stroke-width="1"/><circle cx="906.2" cy="471.9" r="8.3" fill="rgb(194, 59, 159)" fill-opacity="0.8" stroke="rgb(145, 44, 119)" stroke-opacity="0.65" stroke-width="1"/><circle cx="966.4" cy="265.3" r="8.3" fill="rgb(194, 59, 174)" fill-opacity="0.8" stroke="rgb(145, 44, 130)" stroke-opacity="0.30" stroke-width="1"/><circle cx="963.5" cy="273.4" r="8.3" fill="rgb(194, 59, 174)" fill-opacity="0.8" stroke="rgb(145, 44, 130)" stroke-opacity="0.30" stroke-width="1"/><circle cx="970.1" cy="278.3" r="8.3" fill="rgb(194, 59, 174)" fill-opacity="0.8" stroke="rgb(145, 44, 130)" stroke-opacity="0.30" stroke-width="1"/><circle cx="969.6" cy="286.6" r="8.3" fill="rgb(194, 59, 174)" fill-opacity="0.8" stroke="rgb(145, 44, 130)" stroke-opacity="0.30" stroke-width="1"/><circle cx="977.7" cy="289.4" r="8.3" fill="rgb(211, 66, 141)" fill-opacity="0.8" stroke="rgb(158, 49, 105)" stroke-opacity="0.30" stroke-width="1"/><circle cx="977.5" cy="297.9" r="8.3" fill="rgb(211, 66, 141)" fill-opacity="0.8" stroke="rgb(158, 49, 105)" stroke-opacity="0.30" stroke-width="1"/><circle cx="985.3" cy="301.5" r="8.3" fill="rgb(211, 66, 141)" fill-opacity="0.8" stroke="rgb(158, 49, 105)" stroke-opacity="0.30" stroke-width="1"/><circle cx="983.4" cy="309.9" r="8.3" fill="rgb(211, 66, 141)" fill-opacity="0.8" stroke="rgb(158, 49, 105)" stroke-opacity="0.30" stroke-width="1"/><circle cx="990.2" cy="315.0" r="8.3" fill="rgb(211, 66, 141)" fill-opacity="0.8" stroke="rgb(158, 49, 105)" stroke-opacity="0.30" stroke-width="1"/><circle cx="986.9" cy="322.8" r="8.3" fill="rgb(214, 64, 131)" fill-opacity="0.8" stroke="rgb(160, 48, 98)" stroke-opacity="0.30" stroke-width="1"/><circle cx="992.8" cy="329.0" r="8.3" fill="rgb(214, 64, 131)" fill-opacity="0.8" stroke="rgb(160, 48, 98)" stroke-opacity="0.30" stroke-width="1"/><circle cx="988.3" cy="336.3" r="8.3" fill="rgb(214, 64, 131)" fill-opacity="0.8" stroke="rgb(160, 48, 98)" stroke-opacity="0.30" stroke-width="1"/><circle cx="993.3" cy="343.2" r="8.3" fill="rgb(214, 64, 131)" fill-opacity="0.8" stroke="rgb(160, 48, 98)" stroke-opacity="0.30" stroke-width="1"/><circle cx="987.8" cy="349.9" r="8.3" fill="rgb(214, 64, 131)" fill-opacity="0.8" stroke="rgb(160, 48, 98)" stroke-opacity="0.30" stroke-width="1"/><circle cx="992.2" cy="357.3" r="8.3" fill="rgb(214, 64, 131)" fill-opacity="0.8" stroke="rgb(160, 48, 98)" stroke-opacity="0.30" stroke-width="1"/><circle cx="986.3" cy="363.6" r="8.3" fill="rgb(214, 64, 131)" fill-opacity="0.8" stroke="rgb(160, 48, 98)" stroke-opacity="0.30" stroke-width="1"/><circle cx="990.2" cy="371.3" r="8.3" fill="rgb(214, 64, 131)" fill-opacity="0.8" stroke="rgb(160, 48, 98)" stroke-opacity="0.30" stroke-width="1"/><circle cx="983.6" cy="376.9" r="8.3" fill="rgb(214, 64, 131)" fill-opacity="0.8" stroke="rgb(160, 48, 98)" stroke-opacity="0.30" stroke-width="1"/><circle cx="986.6" cy="385.1" r="8.3" fill="rgb(214, 64, 131)" fill-opacity="0.8" stroke="rgb(160, 48, 98)" stroke-opacity="0.30" stroke-width="1"/><circle cx="979.1" cy="389.6" r="8.3" fill="rgb(214, 64, 131)" fill-opacity="0.8" stroke="rgb(160, 48, 98)" stroke-opacity="0.30" stroke-width="1"/><circle cx="980.7" cy="398.1" r="8.3" fill="rgb(211, 66, 141)" fill-opacity="0.8" stroke="rgb(158, 49, 105)" stroke-opacity="0.30" stroke-width="1"/><circle cx="972.9" cy="401.8" r="8.3" fill="rgb(211, 66, 141)" fill-opacity="0.8" stroke="rgb(158, 49, 105)" stroke-opacity="0.30" stroke-width="1"/><circle cx="973.6" cy="410.4" r="8.3" fill="rgb(211, 66, 141)" fill-opacity="0.8" stroke="rgb(158, 49, 105)" stroke-opacity="0.30" stroke-width="1"/><circle cx="965.4" cy="413.0" r="8.3" fill="rgb(211, 66, 141)" fill-opacity="0.8" stroke="rgb(158, 49, 105)" stroke-opacity="0.30" stroke-width="1"/><circle cx="965.0" cy="421.6" r="8.3" fill="rgb(211, 66, 141)" fill-opacity="0.8" stroke="rgb(158, 49, 105)" stroke-opacity="0.30" stroke-width="1"/><circle cx="972.4" cy="299.3" r="8.3" fill="rgb(194, 59, 159)" fill-opacity="0.8" stroke="rgb(145, 44, 119)" stroke-opacity="0.30" stroke-width="1"/><circle cx="964.5" cy="273.4" r="8.3" fill="rgb(194, 59, 174)" fill-opacity="0.8" stroke="rgb(145, 44, 130)" stroke-opacity="0.30" stroke-width="1"/><circle cx="969.5" cy="278.4" r="8.3" fill="rgb(194, 59, 174)" fill-opacity="0.8" stroke="rgb(145, 44, 130)" stroke-opacity="0.30" stroke-width="1"/><circle cx="975.3" cy="280.6" r="8.3" fill="rgb(211, 66, 141)" fill-opacity="0.8" stroke="rgb(158, 49, 105)" stroke-opacity="0.30" stroke-width="1"/><circle cx="973.8" cy="285.6" r="8.3" fill="rgb(194, 59, 174)" fill-opacity="0.8" stroke="rgb(145, 44, 130)" stroke-opacity="0.30" stroke-width="1"/><circle cx="979.6" cy="287.1" r="8.3" fill="rgb(211, 66, 141)" fill-opacity="0.8" stroke="rgb(158, 49, 105)" stroke-opacity="0.30" stroke-width="1"/><circle cx="983.9" cy="292.9" r="8.3" fill="rgb(211, 66, 141)" fill-opacity="0.8" stroke="rgb(158, 49, 105)" stroke-opacity="0.30" stroke-width="1"/><circle cx="981" cy="297.2" r="8.3" fill="rgb(211, 66, 141)" fill-opacity="0.8" stroke="rgb(158, 49, 105)" stroke-opacity="0.30" stroke-width="1"/><circle cx="986.8" cy="298.6" r="8.3" fill="rgb(211, 66, 141)" fill-opacity="0.8" stroke="rgb(158, 49, 105)" stroke-opacity="0.30" stroke-width="1"/><circle cx="988.3" cy="305.8" r="8.3" fill="rgb(211, 66, 141)" fill-opacity="0.8" stroke="rgb(158, 49, 105)" stroke-opacity="0.30" stroke-width="1"/><circle cx="984" cy="308.7" r="8.3" fill="rgb(211, 66, 141)" fill-opacity="0.8" stroke="rgb(158, 49, 105)" stroke-opacity="0.30" stroke-width="1"/><circle cx="992.6" cy="314.5" r="8.3" fill="rgb(214, 64, 131)" fill-opacity="0.8" stroke="rgb(160, 48, 98)" stroke-opacity="0.30" stroke-width="1"/><circle cx="989.7" cy="320.3" r="8.3" fill="rgb(214, 64, 131)" fill-opacity="0.8" stroke="rgb(160, 48, 98)" stroke-opacity="0.30" stroke-width="1"/><circle cx="995.5" cy="323.2" r="8.3" fill="rgb(214, 64, 131)" fill-opacity="0.8" stroke="rgb(160, 48, 98)" stroke-opacity="0.30" stroke-width="1"/><circle cx="977" cy="329" r="8.3" fill="rgb(145, 53, 181)" fill-opacity="0.8" stroke="rgb(108, 39, 135)" stroke-opacity="0.30" stroke-width="1"/><circle cx="975.3" cy="331.8" r="8.3" fill="rgb(194, 59, 174)" fill-opacity="0.8" stroke="rgb(145, 44, 130)" stroke-opacity="0.30" stroke-width="1"/><circle cx="986.8" cy="331.8" r="8.3" fill="rgb(211, 66, 141)" fill-opacity="0.8" stroke="rgb(158, 49, 105)" stroke-opacity="0.30" stroke-width="1"/><circle cx="995.5" cy="341" r="8.3" fill="rgb(206, 59, 136)" fill-opacity="0.8" stroke="rgb(154, 44, 102)" stroke-opacity="0.30" stroke-width="1"/><circle cx="983.9" cy="345.9" r="8.3" fill="rgb(211, 66, 141)" fill-opacity="0.8" stroke="rgb(158, 49, 105)" stroke-opacity="0.30" stroke-width="1"/><circle cx="992.6" cy="353.1" r="8.3" fill="rgb(211, 66, 141)" fill-opacity="0.8" stroke="rgb(158, 49, 105)" stroke-opacity="0.30" stroke-width="1"/><circle cx="978.2" cy="356" r="8.3" fill="rgb(194, 59, 174)" fill-opacity="0.8" stroke="rgb(145, 44, 130)" stroke-opacity="0.30" stroke-width="1"/><circle cx="994" cy="361.8" r="8.3" fill="rgb(211, 66, 141)" fill-opacity="0.8" stroke="rgb(158, 49, 105)" stroke-opacity="0.30" stroke-width="1"/><circle cx="992.6" cy="374.8" r="8.3" fill="rgb(206, 59, 136)" fill-opacity="0.8" stroke="rgb(154, 44, 102)" stroke-opacity="0.30" stroke-width="1"/><circle cx="973.8" cy="376.2" r="8.3" fill="rgb(214, 64, 131)" fill-opacity="0.8" stroke="rgb(160, 48, 98)" stroke-opacity="0.30" stroke-width="1"/><circle cx="981" cy="373.3" r="8.3" fill="rgb(214, 64, 131)" fill-opacity="0.8" stroke="rgb(160, 48, 98)" stroke-opacity="0.30" stroke-width="1"/><circle cx="971" cy="379.1" r="8.3" fill="rgb(214, 64, 131)" fill-opacity="0.8" stroke="rgb(160, 48, 98)" stroke-opacity="0.30" stroke-width="1"/><circle cx="978.2" cy="382" r="8.3" fill="rgb(214, 64, 131)" fill-opacity="0.8" stroke="rgb(160, 48, 98)" stroke-opacity="0.30" stroke-width="1"/><circle cx="983.9" cy="384.9" r="8.3" fill="rgb(214, 64, 131)" fill-opacity="0.8" stroke="rgb(160, 48, 98)" stroke-opacity="0.30" stroke-width="1"/><circle cx="973.8" cy="390.6" r="8.3" fill="rgb(214, 64, 131)" fill-opacity="0.8" stroke="rgb(160, 48, 98)" stroke-opacity="0.30" stroke-width="1"/><circle cx="986.8" cy="390.6" r="8.3" fill="rgb(211, 66, 141)" fill-opacity="0.8" stroke="rgb(158, 49, 105)" stroke-opacity="0.30" stroke-width="1"/><circle cx="979.6" cy="395" r="8.3" fill="rgb(211, 66, 141)" fill-opacity="0.8" stroke="rgb(158, 49, 105)" stroke-opacity="0.30" stroke-width="1"/><circle cx="979.6" cy="404.3" r="8.3" fill="rgb(194, 59, 159)" fill-opacity="0.8" stroke="rgb(145, 44, 119)" stroke-opacity="0.30" stroke-width="1"/><circle cx="988" cy="338" r="8.3" fill="rgb(211, 66, 141)" fill-opacity="0.8" stroke="rgb(158, 49, 105)" stroke-opacity="0.30" stroke-width="1"/><circle cx="984" cy="352" r="8.3" fill="rgb(211, 66, 141)" fill-opacity="0.8" stroke="rgb(158, 49, 105)" stroke-opacity="0.30" stroke-width="1"/><circle cx="990" cy="366" r="8.3" fill="rgb(211, 66, 141)" fill-opacity="0.8" stroke="rgb(158, 49, 105)" stroke-opacity="0.30" stroke-width="1"/><circle cx="975" cy="364" r="8.3" fill="rgb(194, 59, 174)" fill-opacity="0.8" stroke="rgb(145, 44, 130)" stroke-opacity="0.30" stroke-width="1"/><circle cx="985" cy="361" r="8.3" fill="rgb(211, 66, 141)" fill-opacity="0.8" stroke="rgb(158, 49, 105)" stroke-opacity="0.30" stroke-width="1"/><circle cx="969" cy="345" r="8.3" fill="rgb(194, 59, 174)" fill-opacity="0.8" stroke="rgb(145, 44, 130)" stroke-opacity="0.30" stroke-width="1"/><circle cx="997" cy="330" r="8.3" fill="rgb(206, 59, 136)" fill-opacity="0.8" stroke="rgb(154, 44, 102)" stroke-opacity="0.30" stroke-width="1"/><circle cx="967" cy="290" r="8.3" fill="rgb(194, 59, 174)" fill-opacity="0.8" stroke="rgb(145, 44, 130)" stroke-opacity="0.30" stroke-width="1"/><circle cx="990" cy="400" r="8.3" fill="rgb(206, 59, 136)" fill-opacity="0.8" stroke="rgb(154, 44, 102)" stroke-opacity="0.30" stroke-width="1"/><circle cx="938" cy="430" r="8.3" fill="rgb(194, 59, 174)" fill-opacity="0.8" stroke="rgb(145, 44, 130)" stroke-opacity="0.30" stroke-width="1"/><circle cx="944" cy="448" r="8.3" fill="rgb(194, 59, 174)" fill-opacity="0.8" stroke="rgb(145, 44, 130)" stroke-opacity="0.30" stroke-width="1"/><circle cx="925" cy="420" r="8.3" fill="rgb(194, 59, 174)" fill-opacity="0.8" stroke="rgb(145, 44, 130)" stroke-opacity="0.30" stroke-width="1"/><circle cx="188.3" cy="50.9" r="9.2" fill="rgb(54, 89, 215)" fill-opacity="0.95" stroke="rgb(33, 55, 133)" stroke-opacity="0.95" stroke-width="1.3"/><circle cx="174.8" cy="73.6" r="9.2" fill="rgb(54, 89, 215)" fill-opacity="0.95" stroke="rgb(33, 55, 133)" stroke-opacity="0.95" stroke-width="1.3"/><circle cx="212.2" cy="77.2" r="9.2" fill="rgb(54, 89, 215)" fill-opacity="0.95" stroke="rgb(33, 55, 133)" stroke-opacity="0.95" stroke-width="1.3"/><circle cx="255.9" cy="84.7" r="9.2" fill="rgb(54, 89, 215)" fill-opacity="0.95" stroke="rgb(33, 55, 133)" stroke-opacity="0.95" stroke-width="1.3"/><circle cx="261.2" cy="94.8" r="9.2" fill="rgb(54, 89, 215)" fill-opacity="0.95" stroke="rgb(33, 55, 133)" stroke-opacity="0.95" stroke-width="1.3"/><circle cx="282.2" cy="114.4" r="9.2" fill="rgb(54, 89, 215)" fill-opacity="0.95" stroke="rgb(33, 55, 133)" stroke-opacity="0.95" stroke-width="1.3"/><circle cx="223.8" cy="119.4" r="9.2" fill="rgb(54, 89, 215)" fill-opacity="0.95" stroke="rgb(33, 55, 133)" stroke-opacity="0.95" stroke-width="1.3"/><circle cx="174.1" cy="124.3" r="9.2" fill="rgb(54, 89, 215)" fill-opacity="0.95" stroke="rgb(33, 55, 133)" stroke-opacity="0.95" stroke-width="1.3"/><circle cx="201.4" cy="125.5" r="9.2" fill="rgb(54, 89, 215)" fill-opacity="0.95" stroke="rgb(33, 55, 133)" stroke-opacity="0.95" stroke-width="1.3"/><circle cx="153.6" cy="130.8" r="9.2" fill="rgb(54, 89, 215)" fill-opacity="0.95" stroke="rgb(33, 55, 133)" stroke-opacity="0.95" stroke-width="1.3"/><circle cx="267.3" cy="135.9" r="9.2" fill="rgb(48, 58, 206)" fill-opacity="0.95" stroke="rgb(29, 35, 127)" stroke-opacity="0.95" stroke-width="1.3"/><circle cx="253.8" cy="136.8" r="9.2" fill="rgb(48, 58, 206)" fill-opacity="0.95" stroke="rgb(29, 35, 127)" stroke-opacity="0.95" stroke-width="1.3"/><circle cx="235.4" cy="146.5" r="9.2" fill="rgb(86, 54, 206)" fill-opacity="0.95" stroke="rgb(53, 33, 127)" stroke-opacity="0.95" stroke-width="1.3"/><circle cx="319.4" cy="150.3" r="9.2" fill="rgb(48, 58, 206)" fill-opacity="0.95" stroke="rgb(29, 35, 127)" stroke-opacity="0.95" stroke-width="1.3"/><circle cx="195.8" cy="163.9" r="9.2" fill="rgb(86, 54, 206)" fill-opacity="0.95" stroke="rgb(53, 33, 127)" stroke-opacity="0.95" stroke-width="1.3"/><circle cx="200.2" cy="151.5" r="9.2" fill="rgb(86, 54, 206)" fill-opacity="0.95" stroke="rgb(53, 33, 127)" stroke-opacity="0.95" stroke-width="1.3"/><circle cx="185" cy="164.8" r="9.2" fill="rgb(86, 54, 206)" fill-opacity="0.95" stroke="rgb(53, 33, 127)" stroke-opacity="0.95" stroke-width="1.3"/><circle cx="186.2" cy="147.4" r="9.2" fill="rgb(86, 54, 206)" fill-opacity="0.95" stroke="rgb(53, 33, 127)" stroke-opacity="0.95" stroke-width="1.3"/><circle cx="290.7" cy="174" r="9.2" fill="rgb(86, 54, 206)" fill-opacity="0.95" stroke="rgb(53, 33, 127)" stroke-opacity="0.95" stroke-width="1.3"/><circle cx="296.2" cy="183.7" r="9.2" fill="rgb(86, 54, 206)" fill-opacity="0.95" stroke="rgb(53, 33, 127)" stroke-opacity="0.95" stroke-width="1.3"/><circle cx="306.9" cy="193.8" r="9.2" fill="rgb(86, 54, 206)" fill-opacity="0.95" stroke="rgb(53, 33, 127)" stroke-opacity="0.95" stroke-width="1.3"/><circle cx="270.4" cy="205.4" r="9.2" fill="rgb(86, 54, 206)" fill-opacity="0.95" stroke="rgb(53, 33, 127)" stroke-opacity="0.95" stroke-width="1.3"/><circle cx="371.3" cy="215" r="9.2" fill="rgb(86, 54, 206)" fill-opacity="0.95" stroke="rgb(53, 33, 127)" stroke-opacity="0.95" stroke-width="1.3"/></g>
<ellipse cx="323.6" cy="538.6" rx="246.4" ry="133.8" fill="none" stroke="#50324a" stroke-width="1.15" transform="rotate(37.17 323.6 538.6)"/>
<ellipse cx="832.96" cy="509.58" rx="248.26" ry="128.24" fill="none" stroke="#74745a" stroke-width="1.3" transform="rotate(-63.61 832.96 509.58)"/>
<rect x="55" y="233.9" width="985" height="19.8" fill="#45499c"/>
<g stroke="#3c3c3c" stroke-linecap="square"><line x1="55.6" y1="15.9" x2="1039.5" y2="15.9" stroke-width="1.7"/><line x1="55.6" y1="15.9" x2="55.6" y2="776.7" stroke-width="1.35"/><line x1="1039.5" y1="15.9" x2="1039.5" y2="776.7" stroke-width="2.4"/><line x1="55.6" y1="776.7" x2="1039.5" y2="776.7" stroke-width="2.4"/></g>
<g><line x1="81" y1="777.5" x2="81" y2="781.3" stroke="#333" stroke-width="1.5"/><line x1="333" y1="777.5" x2="333" y2="781.3" stroke="#333" stroke-width="1.5"/><line x1="585" y1="777.5" x2="585" y2="781.3" stroke="#333" stroke-width="1.5"/><line x1="837" y1="777.5" x2="837" y2="781.3" stroke="#333" stroke-width="1.5"/><line x1="50.3" y1="25.5" x2="55" y2="25.5" stroke="#333" stroke-width="1.6"/><line x1="50.3" y1="236.7" x2="55" y2="236.7" stroke="#333" stroke-width="1.6"/><line x1="50.3" y1="448.0" x2="55" y2="448.0" stroke="#333" stroke-width="1.6"/><line x1="50.3" y1="659.5" x2="55" y2="659.5" stroke="#333" stroke-width="1.6"/></g>
<text x="504.7" y="106.5" font-size="29.5" font-weight="bold" fill="#000" textLength="171" lengthAdjust="spacingAndGlyphs">Postdestete</text>
<text x="504.2" y="318.5" font-size="31.4" fill="#000" stroke="#fff" stroke-width="7" stroke-linejoin="round" paint-order="stroke" textLength="156.3" lengthAdjust="spacingAndGlyphs">Predestete</text>
<text x="105" y="564" font-size="31.6" fill="#000" stroke="#fff" stroke-width="7" stroke-linejoin="round" paint-order="stroke" textLength="483.1" lengthAdjust="spacingAndGlyphs">Inmediatamente antes del destete</text>
<text x="802.1" y="558.2" font-size="31.2" fill="#000" stroke="#fff" stroke-width="7" stroke-linejoin="round" paint-order="stroke" textLength="129" lengthAdjust="spacingAndGlyphs">Primeros</text>
<text x="784.9" y="592.6" font-size="31.2" fill="#000" stroke="#fff" stroke-width="7" stroke-linejoin="round" paint-order="stroke" textLength="172.6" lengthAdjust="spacingAndGlyphs">días de vida</text>
<text x="374.1" y="816.1" font-size="31.5" fill="#000" textLength="355.6" lengthAdjust="spacingAndGlyphs">Índice de diversidad beta</text>
<text transform="translate(38.2 527.9) rotate(-90)" font-size="32.4" fill="#000" textLength="354.7" lengthAdjust="spacingAndGlyphs">Índice de diversidad beta</text>
<text x="1052.3" y="157.4" font-size="30.2" fill="#000" textLength="152.4" lengthAdjust="spacingAndGlyphs">Diversidad</text><text x="1052.6" y="192.8" font-size="30.2" fill="#000" textLength="44.2" lengthAdjust="spacingAndGlyphs">del</text><text x="1052.4" y="228.8" font-size="30.2" fill="#000" textLength="164.6" lengthAdjust="spacingAndGlyphs">microbioma</text>
<text x="1065.3" y="278.8" font-size="27.8" fill="#000" textLength="48.5" lengthAdjust="spacingAndGlyphs">Alta</text><text x="1067.8" y="653.8" font-size="27.6" fill="#000" textLength="57.5" lengthAdjust="spacingAndGlyphs">Baja</text>
<rect x="1060" y="299.3" width="67" height="313.4" fill="url(#lg)" stroke="#111" stroke-width="1.5"/>
</svg></body></html>
